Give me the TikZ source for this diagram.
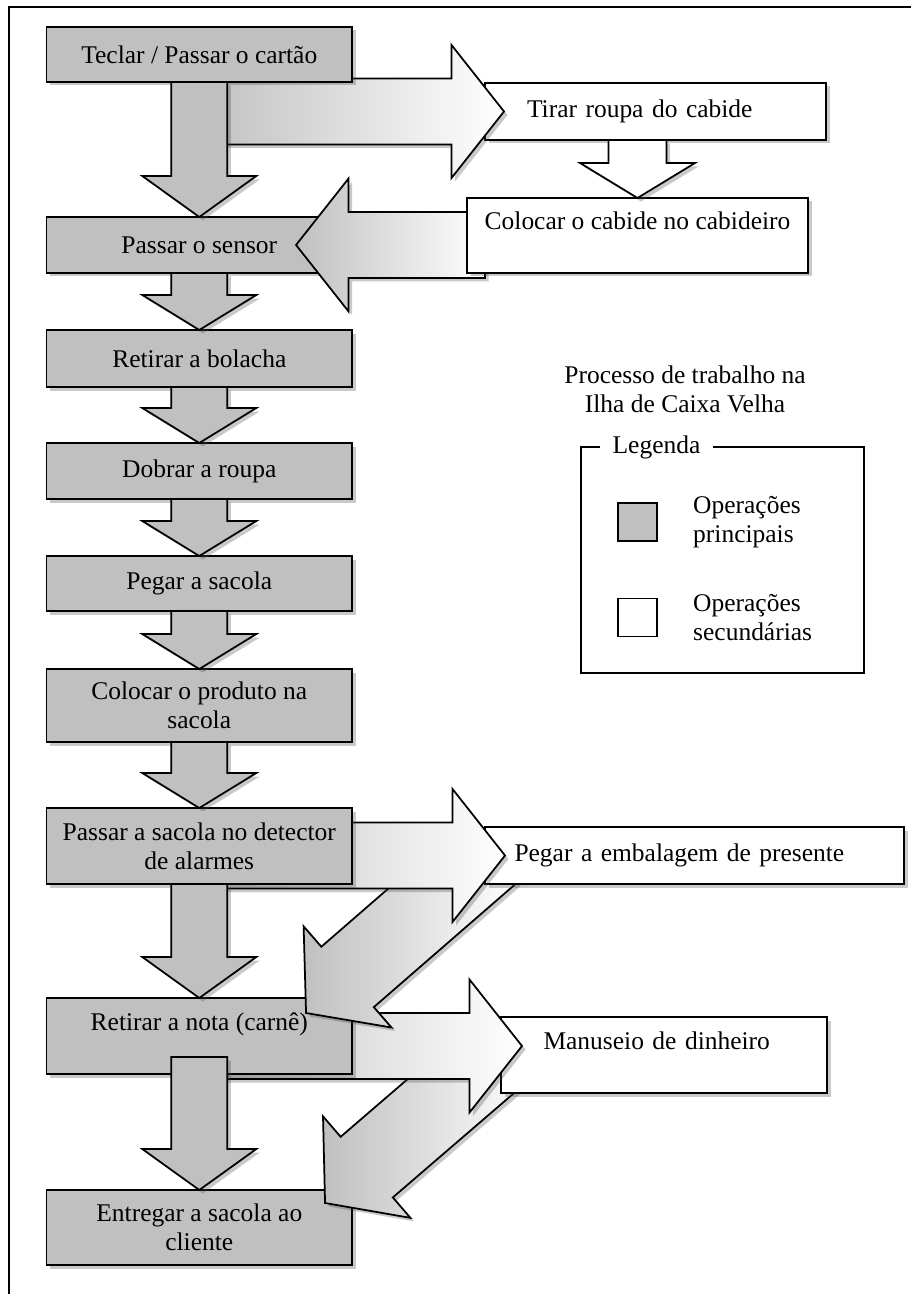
\documentclass[tikz,border=0pt]{standalone}
\usepackage{fontspec}
\setmainfont{Liberation Serif}
\usepackage{xcolor}
\definecolor{opgray}{RGB}{192,192,192}
\usepackage{tikz}
\usetikzlibrary{positioning,calc,shadows}
\tikzset{
  boxfont/.style={font=\fontsize{14.5}{16.5}\selectfont},
  softshadow/.style={drop shadow={shadow xshift=0.7mm,shadow yshift=-0.7mm,opacity=0.3,fill=black!70}},
  mainop/.style={rectangle,draw,line width=0.35mm,fill=opgray,minimum width=61.1mm,minimum height=11.2mm,inner sep=0pt,outer sep=0pt,align=center,boxfont,softshadow},
  secop/.style={rectangle,draw,line width=0.35mm,fill=white,minimum height=11.4mm,inner ysep=0pt,outer sep=0pt,boxfont,softshadow},
  barrow/.style={draw,line width=0.35mm,softshadow},
  flowarrow/.style={barrow,fill=opgray},
  sidearrow/.style={barrow,left color=opgray,right color=white},
  legtext/.style={boxfont,align=left,inner sep=0pt}
}
% block arrow: [style]{start}{tip}{half shaft}{half head}{head length}
\newcommand{\blockarrow}[6][]{%
  \coordinate (ah) at ($(#3)!#6!(#2)$);
  \path[#1] ($(#2)!#4!90:(#3)$) -- ($(ah)!#4!90:(#3)$) -- ($(ah)!#5!90:(#3)$) -- (#3)
    -- ($(ah)!#5!-90:(#3)$) -- ($(ah)!#4!-90:(#3)$) -- ($(#2)!#4!-90:(#3)$) -- cycle;
}

\begin{document}
\begin{tikzpicture}[x=0.2mm,y=-0.2mm]
  \useasboundingbox (0,0) rectangle (911,1294);
  \draw[line width=0.4mm] (9,1294) |- (911,7);

  % Top: card and hanger
  \node[secop,inner xsep=8.4mm,text width=51.4mm,align=left] (tirar) at (655.5,111.5) {Tirar roupa do cabide};
  \coordinate (s1) at (199.3,111.5);
  \coordinate (t1) at ($(tirar.west)+(19,0)$);
  \blockarrow[sidearrow]{s1}{t1}{6.6mm}{13.3mm}{10.5mm}
  \node[mainop,minimum height=11mm] (teclar) at (199.3,54.5) {Teclar / Passar o cartão};
  \node[mainop,below=27mm of teclar] (sensor) {Passar o sensor};
  \blockarrow[flowarrow]{teclar.south}{sensor.north}{5.6mm}{11.4mm}{8.2mm}
  \coordinate (s2) at (485,245);
  \coordinate (t2) at ($(sensor.east)+(-56,0)$);
  \blockarrow[sidearrow]{s2}{t2}{6.6mm}{13.3mm}{10.5mm}
  \node[secop,minimum width=68.2mm,minimum height=15mm,align=center] (colocar) at (637.5,235.5) {Colocar o cabide no cabideiro\\ \mbox{}};
  \coordinate (c1) at (colocar.north |- tirar.south);
  \blockarrow[barrow,fill=white]{c1}{colocar.north}{5.8mm}{11.5mm}{7mm}

  % Main column
  \node[mainop,below=11.4mm of sensor,minimum height=11.4mm] (bolacha) {Retirar a bolacha};
  \node[mainop,below=11.2mm of bolacha] (dobrar) {Dobrar a roupa};
  \node[mainop,below=11.4mm of dobrar,minimum height=11mm] (sacola) {Pegar a sacola};
  \node[mainop,below=11.6mm of sacola,minimum height=14.6mm] (produto) {Colocar o produto na\\sacola};
  \foreach \a/\b in {sensor/bolacha,bolacha/dobrar,dobrar/sacola,sacola/produto}
    {\blockarrow[flowarrow]{\a.south}{\b.north}{5.6mm}{11.4mm}{7mm}}

  % Bottom: gift wrap and cash
  \node[mainop,minimum height=15mm] (entregar) at (199.3,1227.5) {Entregar a sacola ao\\cliente};
  \coordinate (s3) at (510.5,1043.3);
  \coordinate (t3) at ($(entregar.north east)+(-27,13)$);
  \blockarrow[sidearrow]{s3}{t3}{8mm}{13.4mm}{11mm}
  \node[secop,minimum height=15.2mm,inner xsep=8.5mm,text width=48.2mm,align=left] (manuseio) at (664,1055) {Manuseio de dinheiro\\ \mbox{}};
  \coordinate (s4) at (199.3,1046);
  \coordinate (t4) at ($(manuseio.west)+(21,-9)$);
  \blockarrow[sidearrow]{s4}{t4}{6.6mm}{13.3mm}{10.5mm}
  \node[mainop,minimum height=15.2mm] (nota) at (199.3,1036) {Retirar a nota (carnê)\\ \mbox{}};
  \coordinate (c2) at ($(nota.south)+(0,-17)$);
  \blockarrow[flowarrow]{c2}{entregar.north}{5.6mm}{11.4mm}{8.2mm}
  \coordinate (s5) at (491,852.3);
  \coordinate (t5) at ($(nota.north east)+(-46,15)$);
  \blockarrow[sidearrow]{s5}{t5}{8mm}{13.4mm}{11mm}
  \node[secop,inner xsep=5.9mm,text width=72mm,align=left] (pegar) at (694.5,855.5) {Pegar a embalagem de presente};
  \coordinate (s6) at (199.3,855.5);
  \coordinate (t6) at ($(pegar.west)+(20,0)$);
  \blockarrow[sidearrow]{s6}{t6}{6.6mm}{13.3mm}{10.5mm}
  \node[mainop,minimum height=15.2mm] (detector) at (199.3,846) {Passar a sacola no detector\\de alarmes};
  \blockarrow[flowarrow]{produto.south}{detector.north}{5.6mm}{11.4mm}{7mm}
  \blockarrow[flowarrow]{detector.south}{nota.north}{5.6mm}{11.4mm}{8.2mm}

  % Legend
  \node[legtext,align=center] (titulo) at (685,389) {Processo de trabalho na\\Ilha de Caixa Velha};
  \node[draw,line width=0.3mm,minimum width=56.6mm,minimum height=45.2mm,outer sep=0pt] (legenda) at (722.5,560) {};
  \node[legtext,fill=white,inner xsep=2.5mm,inner ysep=1mm] at ($(legenda.north west)+(75.5,0)$) {Legenda};
  \node[draw,line width=0.35mm,fill=opgray,minimum width=7.8mm,minimum height=7.6mm,inner sep=0pt] (principal) at ($(legenda.north west)+(56.5,75)$) {};
  \node[legtext,right=7mm of principal] {Operações\\principais};
  \node[draw,line width=0.35mm,fill=white,minimum width=7.8mm,minimum height=7.6mm,inner sep=0pt] (secundaria) at ($(legenda.north west)+(56.5,170.5)$) {};
  \node[legtext,right=7mm of secundaria] {Operações\\secundárias};
\end{tikzpicture}
\end{document}
